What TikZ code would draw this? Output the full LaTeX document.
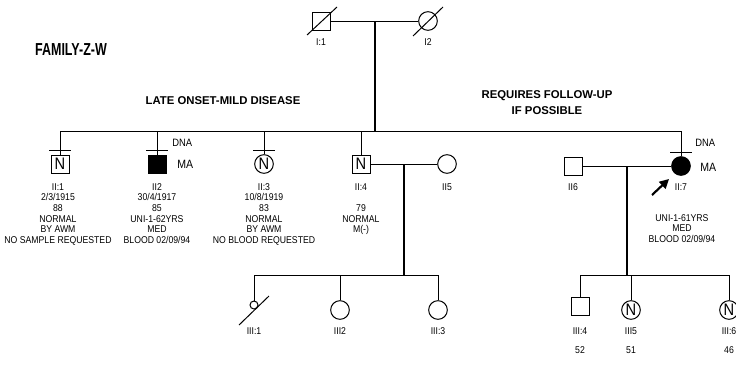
\documentclass[tikz,border=0pt]{standalone}
\usepackage{fontspec}
\setmainfont{Liberation Sans}[FakeStretch=0.88]
\newfontfamily\titlefont{Liberation Sans}[FakeStretch=0.72]
\newfontfamily\headfont{Liberation Sans}
\usetikzlibrary{arrows.meta,calc}
\begin{document}
\begin{tikzpicture}[x=0.75pt,y=-0.75pt,
  ln/.style={line width=0.75pt},
  desc/.style={line width=1.4pt},
  male/.style={draw,line width=0.75pt,rectangle,minimum size=13.5pt,inner sep=0pt,font=\fontsize{12.5}{12.5}\selectfont},
  female/.style={draw,line width=0.75pt,circle,minimum size=14pt,inner sep=0pt,font=\fontsize{12.5}{12.5}\selectfont},
  aff/.style={fill=black},
  lbl/.style={font=\fontsize{7.4}{8}\selectfont,align=center,inner sep=0pt},
  tag/.style={font=\fontsize{8}{8}\selectfont,inner sep=0pt,anchor=west},
  big/.style={font=\fontsize{9}{9}\selectfont,inner sep=0pt,anchor=west},
  head/.style={font=\headfont\bfseries\fontsize{8.5}{12}\selectfont,align=center,inner sep=0pt}
]
\useasboundingbox (0,0) rectangle (736,371);

% titles
\node[font=\titlefont\bfseries\fontsize{13}{13}\selectfont,inner sep=0pt] (title) at (71,50) {FAMILY-Z-W};
\node[head] (late) at (223,101) {LATE ONSET-MILD DISEASE};
\node[head] (req) at (547,103) {REQUIRES FOLLOW-UP\\IF POSSIBLE};

% generation I
\node[male] (I1) at (321,21) {};
\node[female] (I2) at (428,21) {};
\draw[ln] (307,35) -- (337,7);
\draw[ln] (413,36) -- (443,7);
\draw[ln] (I1.east) -- (I2.west);
\coordinate (m1) at (375,21);
\coordinate (s1) at (375,131);
\draw[desc] (m1) -- (s1);
\node[lbl] (lI1) at (321,42) {I:1};
\node[lbl] (lI2) at (428,42) {I2};

% generation II
\node[male] (II1) at (60,164) {N};
\node[male,aff] (II2) at (157,164) {};
\node[female] (II3) at (264,164) {N};
\node[male] (II4) at (361,164) {N};
\node[female] (II5) at (447,164) {};
\node[male] (II6) at (573,166) {};
\node[female,aff] (II7) at (681,166) {};

\coordinate (s1L) at (60,131);
\coordinate (s1R) at (681,131);
\draw[ln] (s1L) -- (s1R);
\foreach \n in {II1,II2,II3,II4,II7}
  \draw[ln] (\n |- s1L) -- (\n.north);
% DNA ticks
\foreach \n in {II1,II2,II3,II7}
  \draw[ln] ($(\n.north)+(-11,-4)$) -- ++(22,0);

\node[tag] (dna2) at (172,143) {DNA};
\node[big] (ma2) at (177,164) {MA};
\node[tag] (dna7) at (695,143) {DNA};
\node[big] (ma7) at (700,167) {MA};

% marriages gen II
\draw[ln] (II4.east) -- (II5.west);
\draw[ln] (II6.east) -- (II7.west);
\coordinate (m2) at (404,164);
\coordinate (s2) at (404,275);
\draw[desc] (m2) -- (s2);
\coordinate (m3) at (627,166);
\coordinate (s3) at (627,275);
\draw[desc] (m3) -- (s3);

% proband arrow
\coordinate (pa) at (652,195);
\coordinate (pb) at (669,179);
\draw[line width=1.6pt,-{Triangle[length=7pt,width=7pt]}] (pa) -- (pb);

% gen II labels
\node[lbl,anchor=north] (lII1) at (58,183) {II:1\\2/3/1915\\88\\NORMAL\\BY AWM\\NO SAMPLE REQUESTED};
\node[lbl,anchor=north] (lII2) at (157,183) {II2\\30/4/1917\\85\\UNI-1-62YRS\\MED\\BLOOD 02/09/94};
\node[lbl,anchor=north] (lII3) at (264,183) {II:3\\10/8/1919\\83\\NORMAL\\BY AWM\\NO BLOOD REQUESTED};
\node[lbl,anchor=north] (lII4) at (361,183) {II:4\\\mbox{}\\79\\NORMAL\\M(-)};
\node[lbl,anchor=north] (lII5) at (447,183) {II5};
\node[lbl,anchor=north] (lII6) at (573,183) {II6};
\node[lbl,anchor=north] (lII7) at (681,183) {II:7};
\node[lbl,anchor=north] (lII7b) at (682,214) {UNI-1-61YRS\\MED\\BLOOD 02/09/94};

% generation III left
\coordinate (s2L) at (254,275);
\coordinate (s2R) at (438,275);
\draw[ln] (s2L) -- (s2R);
\node[draw,line width=0.75pt,circle,minimum size=6pt,inner sep=0pt] (III1) at (254,305) {};
\draw[ln] (239,325) -- (269,296);
\node[female] (III2) at (340,310) {};
\node[female] (III3) at (438,310) {};
\foreach \n in {III1,III2,III3}
  \draw[ln] (\n |- s2L) -- (\n.north);
\node[lbl] (lIII1) at (254,331) {III:1};
\node[lbl] (lIII2) at (340,331) {III2};
\node[lbl] (lIII3) at (438,331) {III:3};

% generation III right
\coordinate (s3L) at (580,275);
\coordinate (s3R) at (729,275);
\draw[ln] (s3L) -- (s3R);
\node[male] (III4) at (580,306) {};
\node[female] (III5) at (631,310) {N};
\node[female] (III6) at (729,310) {N};
\foreach \n in {III4,III5,III6}
  \draw[ln] (\n |- s3L) -- (\n.north);
\node[lbl] (lIII4) at (580,331) {III:4};
\node[lbl] (lIII5) at (631,331) {III5};
\node[lbl] (lIII6) at (729,331) {III:6};
\node[lbl] (aIII4) at (580,350) {52};
\node[lbl] (aIII5) at (631,350) {51};
\node[lbl] (aIII6) at (729,350) {46};
\end{tikzpicture}
\end{document}
